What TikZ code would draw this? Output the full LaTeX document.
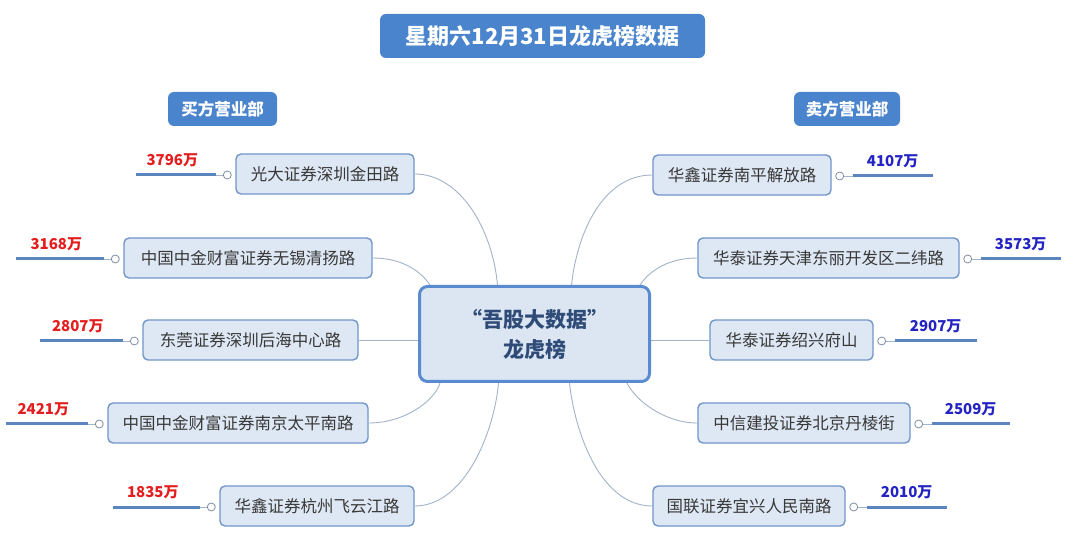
\documentclass[tikz,border=0pt]{standalone}
\usepackage{fontspec}
\setmainfont{Noto Sans CJK SC}
\usetikzlibrary{calc,backgrounds}
\definecolor{hdr}{HTML}{4A84CC}
\definecolor{cfill}{HTML}{DCE6F2}
\definecolor{cborder}{HTML}{5A8AD0}
\definecolor{bfill}{HTML}{DEE8F4}
\definecolor{bborder}{HTML}{7096CA}
\definecolor{ctext}{HTML}{2F4C78}
\definecolor{ntext}{HTML}{383838}
\definecolor{conn}{HTML}{A3B3C8}
\definecolor{numred}{HTML}{E41E1E}
\definecolor{numblue}{HTML}{2424C4}
\definecolor{numline}{HTML}{5B85BF}
\tikzset{
  hdrbox/.style={fill=hdr, rounded corners=6pt, text=white, inner sep=0pt,
    font=\fontsize{16.5}{18}\selectfont\bfseries},
  centerbox/.style={fill=cfill, draw=cborder, line width=3pt, rounded corners=8pt,
    text=ctext, align=center, inner sep=0pt, minimum width=230pt, minimum height=95pt,
    font=\fontsize{21}{30}\selectfont\bfseries},
  branch/.style={fill=bfill, draw=bborder, line width=1.4pt, rounded corners=5pt,
    text=ntext, inner xsep=12pt, inner ysep=0pt, minimum height=40pt,
    font=\fontsize{16.5}{18}\selectfont},
  dot/.style={circle, draw=conn!80!black, fill=white, line width=0.8pt,
    inner sep=0pt, minimum size=8pt},
  conline/.style={draw=conn, line width=0.9pt},
  numline/.style={draw=numline, line width=3pt},
  numl/.style={text=numred, font=\fontsize{15}{16}\selectfont\bfseries, inner sep=1pt},
  numr/.style={text=numblue, font=\fontsize{15}{16}\selectfont\bfseries, inner sep=1pt}
}
\begin{document}
\begin{tikzpicture}[x=1pt,y=-1pt]
\useasboundingbox (0,0) rectangle (1080,545);

% headers
\node[hdrbox, minimum width=325pt, minimum height=44pt,
  font=\fontsize{22}{24}\selectfont\bfseries] (title) at (542.5,36) {星期六12月31日龙虎榜数据};
\node[hdrbox, minimum width=109pt, minimum height=34pt] (buy) at (222.5,109) {买方营业部};
\node[hdrbox, minimum width=106pt, minimum height=34pt] (sell) at (847,109) {卖方营业部};

% center
\node[centerbox] (C) at (534.5,334) {“吾股大数据”\\龙虎榜};

% left branches
\node[branch, minimum width=178pt] (L1) at (325,174) {光大证券深圳金田路};
\node[branch, minimum width=248pt] (L2) at (248,258) {中国中金财富证券无锡清扬路};
\node[branch, minimum width=215pt] (L3) at (250.5,340) {东莞证券深圳后海中心路};
\node[branch, minimum width=260pt] (L4) at (238,423) {中国中金财富证券南京太平南路};
\node[branch, minimum width=194pt] (L5) at (317,506) {华鑫证券杭州飞云江路};

% right branches
\node[branch, minimum width=178pt] (R1) at (742,175) {华鑫证券南平解放路};
\node[branch, minimum width=261pt] (R2) at (828.5,258) {华泰证券天津东丽开发区二纬路};
\node[branch, minimum width=163pt] (R3) at (791.5,340) {华泰证券绍兴府山};
\node[branch, minimum width=212pt] (R4) at (804,423) {中信建投证券北京丹棱街};
\node[branch, minimum width=192pt] (R5) at (749,506) {国联证券宜兴人民南路};

% connectors center -> branches
\begin{scope}[on background layer]
\fill[white] (0,0) rectangle (1080,545);
\draw[conline] ($(C.north)+(-37,0)$) .. controls ($(C.north)+(-42,-55)$) and ($(L1.east)+(46,0)$) .. (L1.east);
\draw[conline] ($(C.north west)+(12,0)$) .. controls ($(C.north west)+(2,-15)$) and ($(L2.east)+(28,0)$) .. (L2.east);
\draw[conline] (L3.east -| C.west) -- (L3.east);
\draw[conline] ($(C.south west)+(22,0)$) .. controls ($(C.south west)+(17,17)$) and ($(L4.east)+(37,0)$) .. (L4.east);
\draw[conline] ($(C.south)+(-36,0)$) .. controls ($(C.south)+(-40,47)$) and ($(L5.east)+(51,0)$) .. (L5.east);

\draw[conline] ($(C.north)+(37,0)$) .. controls ($(C.north)+(43,-55)$) and ($(R1.west)+(-48,0)$) .. (R1.west);
\draw[conline] ($(C.north east)+(-11,0)$) .. controls ($(C.north east)+(-1,-15)$) and ($(R2.west)+(-28,0)$) .. (R2.west);
\draw[conline] (R3.west -| C.east) -- (R3.west);
\draw[conline] ($(C.south east)+(-24,0)$) .. controls ($(C.south east)+(-16,17)$) and ($(R4.west)+(-33,0)$) .. (R4.west);
\draw[conline] ($(C.south)+(35,0)$) .. controls ($(C.south)+(40,47)$) and ($(R5.west)+(-53,0)$) .. (R5.west);
\end{scope}

% number tails, left
\foreach \n/\len/\val in {L1/80/3796, L2/88/3168, L3/83/2807, L4/82/2421, L5/87/1835}{
  \node[dot] (\n d) at ($(\n.west)+(-8,1)$) {};
  \coordinate (\n a) at ($(\n d)+(-11,0)$);
  \coordinate (\n b) at ($(\n a)+(-\len,0)$);
  \draw[conline] (\n d) -- (\n a);
  \draw[numline] (\n a) -- (\n b);
  \node[numl] (\n n) at ($($(\n a)!0.5!(\n b)$)+(-4,-15)$) {\val 万};
}
% number tails, right
\foreach \n/\len/\val in {R1/80/4107, R2/80/3573, R3/82/2907, R4/78/2509, R5/80/2010}{
  \node[dot] (\n d) at ($(\n.east)+(8,1)$) {};
  \coordinate (\n a) at ($(\n d)+(13,0)$);
  \coordinate (\n b) at ($(\n a)+(\len,0)$);
  \draw[conline] (\n d) -- (\n a);
  \draw[numline] (\n a) -- (\n b);
  \node[numr] (\n n) at ($($(\n a)!0.5!(\n b)$)+(0,-15)$) {\val 万};
}
\end{tikzpicture}
\end{document}
